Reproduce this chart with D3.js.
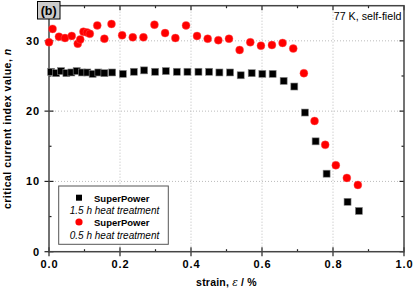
<!DOCTYPE html>
<html><head><meta charset="utf-8">
<script src="https://cdn.jsdelivr.net/npm/d3@7"></script>
<style>body{margin:0;background:#fff}svg{display:block}</style>
</head><body>
<svg id="c" width="415" height="290"></svg>
<script>
// Data
const sq_x = [0.006,0.020,0.034,0.049,0.063,0.078,0.093,0.108,0.123,0.139,0.156,0.178,0.208,0.239,0.268,0.299,0.329,0.360,0.390,0.421,0.451,0.480,0.510,0.540,0.571,0.601,0.630,0.661,0.691,0.721,0.751,0.782,0.841,0.873];
const sq_n = [25.6,25.4,25.7,25.4,25.5,25.7,25.5,25.5,25.3,25.5,25.4,25.5,25.3,25.6,25.8,25.6,25.7,25.6,25.6,25.6,25.6,25.5,25.5,25.1,25.4,25.3,25.3,24.3,23.5,19.8,15.7,11.1,7.1,5.8];
const ci_x = [0.0,0.010,0.028,0.045,0.064,0.081,0.088,0.097,0.107,0.115,0.136,0.156,0.176,0.206,0.236,0.266,0.297,0.327,0.356,0.386,0.417,0.447,0.477,0.507,0.537,0.567,0.597,0.628,0.658,0.688,0.718,0.748,0.778,0.808,0.839,0.870];
const ci_n = [29.8,31.7,30.6,30.4,30.7,29.6,30.2,31.3,31.2,31.0,32.2,30.3,32.4,30.8,30.5,30.5,32.3,31.1,30.4,32.2,30.7,30.3,30.1,30.3,28.7,29.8,29.3,29.4,29.7,28.9,25.4,18.6,15.2,12.3,10.5,9.5];
const xTicks = [0.0,0.2,0.4,0.6,0.8,1.0];
const yTicks = [0,10,20,30];
const legendLabels = ["SuperPower","1.5 h heat treatment","SuperPower","0.5 h heat treatment"];

const svg = d3.select("#c");
const L=49, T=5.7, W=355, H=246;
const x = d3.scaleLinear().domain([0,1]).range([L,L+W]);
const y = d3.scaleLinear().domain([0,35]).range([T+H,T]);
const font = "'Liberation Sans', Arial, Helvetica, sans-serif";

// grid
const g = svg.append("g");
g.selectAll(".gx").data([0.2,0.4,0.6,0.8]).join("line")
  .attr("x1",d=>x(d)).attr("x2",d=>x(d)).attr("y1",T).attr("y2",T+H)
  .attr("stroke","#bbb").attr("stroke-width",1).attr("stroke-dasharray","1,2");
g.selectAll(".gy").data([10,20,30]).join("line")
  .attr("y1",d=>y(d)).attr("y2",d=>y(d)).attr("x1",L).attr("x2",L+W)
  .attr("stroke","#bbb").attr("stroke-width",1).attr("stroke-dasharray","1,2");

// axes
const axB = d3.axisBottom(x).tickValues(xTicks).tickFormat(d3.format(".1f")).tickSize(0).tickPadding(9);
const axL = d3.axisLeft(y).tickValues(yTicks).tickFormat(d3.format("d")).tickSize(0).tickPadding(9);
const gb = svg.append("g").attr("transform",`translate(0,${T+H})`).call(axB);
const gl = svg.append("g").attr("transform",`translate(${L},0)`).call(axL);
[gb,gl].forEach(a=>{a.select(".domain").remove();a.selectAll("text").attr("font-family",font).attr("font-size",11).attr("letter-spacing",0.9).attr("font-weight","bold").attr("fill","#000");});

// tick marks
const tk = svg.append("g").attr("stroke","#222").attr("stroke-width",1.2);
xTicks.forEach(v=>{
  tk.append("line").attr("x1",x(v)).attr("x2",x(v)).attr("y1",T+H-4.5).attr("y2",T+H+4.5);
  tk.append("line").attr("x1",x(v)).attr("x2",x(v)).attr("y1",T).attr("y2",T+4.5);
});
[0.1,0.3,0.5,0.7,0.9].forEach(v=>{
  tk.append("line").attr("x1",x(v)).attr("x2",x(v)).attr("y1",T+H-2.5).attr("y2",T+H);
  tk.append("line").attr("x1",x(v)).attr("x2",x(v)).attr("y1",T).attr("y2",T+2.5);
});
yTicks.forEach(v=>{
  tk.append("line").attr("y1",y(v)).attr("y2",y(v)).attr("x1",L-4.5).attr("x2",L+4.5);
  tk.append("line").attr("y1",y(v)).attr("y2",y(v)).attr("x1",L+W-4.5).attr("x2",L+W);
});
[5,15,25].forEach(v=>{
  tk.append("line").attr("y1",y(v)).attr("y2",y(v)).attr("x1",L).attr("x2",L+2.5);
  tk.append("line").attr("y1",y(v)).attr("y2",y(v)).attr("x1",L+W-2.5).attr("x2",L+W);
});

// frame
svg.append("rect").attr("x",L).attr("y",T).attr("width",W).attr("height",H)
  .attr("fill","none").attr("stroke","#444").attr("stroke-width",1.5);

// data
const sq = 7;
svg.append("g").selectAll("rect").data(sq_x.map((v,i)=>[v,sq_n[i]])).join("rect")
  .attr("x",d=>x(d[0])-sq/2).attr("y",d=>y(d[1])-sq/2).attr("width",sq).attr("height",sq)
  .attr("fill","#000").attr("stroke","#888").attr("stroke-width",0.6);
svg.append("g").selectAll("circle").data(ci_x.map((v,i)=>[v,ci_n[i]])).join("circle")
  .attr("cx",d=>x(d[0])).attr("cy",d=>y(d[1])).attr("r",4)
  .attr("fill","#ff0000").attr("stroke","#ff6060").attr("stroke-width",0.4);

// legend
const lg = svg.append("g");
lg.append("rect").attr("x",58.7).attr("y",186).attr("width",109.6).attr("height",58.3)
  .attr("fill","#fff").attr("stroke","#555").attr("stroke-width",1);
lg.append("rect").attr("x",79-3).attr("y",197.7-3).attr("width",6).attr("height",6).attr("fill","#000");
lg.append("circle").attr("cx",79).attr("cy",222).attr("r",3.6).attr("fill","#ff0000");
lg.append("text").attr("x",94).attr("y",201.5).text(legendLabels[0]).attr("font-weight","bold").attr("font-size",9.5);
lg.append("text").attr("x",114.5).attr("y",213.5).attr("text-anchor","middle").attr("font-style","italic").attr("font-size",10).text(legendLabels[1]);
lg.append("text").attr("x",94).attr("y",226).text(legendLabels[2]).attr("font-weight","bold").attr("font-size",9.5);
lg.append("text").attr("x",114.5).attr("y",238.5).attr("text-anchor","middle").attr("font-style","italic").attr("font-size",10).text(legendLabels[3]);
lg.selectAll("text").attr("font-family",font).attr("fill","#000");

// annotation
svg.append("text").attr("x",401.5).attr("y",20).attr("text-anchor","end")
  .attr("font-family",font).attr("font-size",10.7).attr("fill","#000").text("77 K, self-field");

// panel label
svg.append("rect").attr("x",37.5).attr("y",1.5).attr("width",22.5).attr("height",17.5)
  .attr("fill","#ccc").attr("stroke","#000").attr("stroke-width",1);
svg.append("text").attr("x",48.7).attr("y",15).attr("text-anchor","middle")
  .attr("font-family",font).attr("font-size",12.5).attr("font-weight","bold").text("(b)");

// axis titles
const xt = svg.append("text").attr("x",x(0.5)).attr("y",286).attr("text-anchor","middle")
  .attr("font-family",font).attr("font-size",10.5).attr("letter-spacing",0.2).attr("font-weight","bold").attr("fill","#000");
xt.append("tspan").text("strain, ");
xt.append("tspan").attr("font-family","'DejaVu Serif', serif").attr("font-style","italic").attr("font-weight","normal").text("ε");
xt.append("tspan").text(" / %");
const yt = svg.append("text").attr("transform",`translate(11,${y(17.5)}) rotate(-90)`).attr("text-anchor","middle")
  .attr("font-family",font).attr("font-size",10.5).attr("letter-spacing",0.5).attr("font-weight","bold").attr("fill","#000");
yt.append("tspan").text("critical current index value, ");
yt.append("tspan").attr("font-style","italic").text("n");
</script>
</body></html>
